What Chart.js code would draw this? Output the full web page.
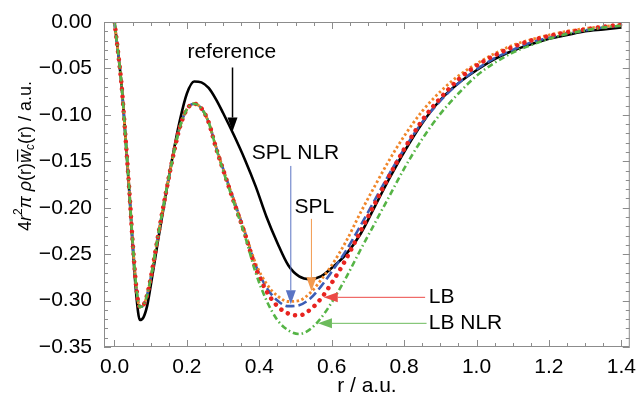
<!doctype html>
<html lang="en">
<head>
<meta charset="utf-8">
<title>Correlation energy density</title>
<style>
  html, body { margin: 0; padding: 0; background: #fff; }
  #wrap { width: 636px; height: 400px; }
</style>
</head>
<body>
<div id="wrap"><canvas id="chart" width="636" height="400"></canvas></div>
<script src="https://cdn.jsdelivr.net/npm/chart.js"></script>
<script>
// r grid (a.u.) shared by all curves
const rGrid = [0, 0.01, 0.02, 0.03, 0.04, 0.05, 0.06, 0.07, 0.08, 0.09, 0.10, 0.12, 0.14, 0.16, 0.18, 0.20,
  0.22, 0.24, 0.26, 0.28, 0.30, 0.33, 0.36, 0.39, 0.42, 0.45, 0.48, 0.51, 0.54, 0.57, 0.60, 0.64,
  0.68, 0.72, 0.76, 0.80, 0.85, 0.90, 0.95, 1.00, 1.05, 1.10, 1.15, 1.20, 1.25, 1.30, 1.35, 1.40];

const reference = [0, -0.033, -0.070, -0.122, -0.178, -0.240, -0.293, -0.321, -0.318, -0.306, -0.284, -0.236, -0.190, -0.146, -0.107, -0.077,
  -0.064, -0.065, -0.071, -0.083, -0.098, -0.122, -0.148, -0.177, -0.210, -0.238, -0.262, -0.274, -0.277, -0.274, -0.265, -0.250,
  -0.228, -0.198, -0.168, -0.140, -0.109, -0.084, -0.066, -0.052, -0.040, -0.031, -0.024, -0.018, -0.014, -0.010, -0.008, -0.006];

const splNlr = [0, -0.033, -0.070, -0.122, -0.176, -0.236, -0.285, -0.307, -0.305, -0.294, -0.276, -0.231, -0.188, -0.148, -0.114, -0.094,
  -0.088, -0.093, -0.108, -0.134, -0.158, -0.192, -0.226, -0.262, -0.286, -0.300, -0.306, -0.305, -0.298, -0.285, -0.269, -0.246,
  -0.219, -0.191, -0.163, -0.137, -0.108, -0.085, -0.066, -0.051, -0.039, -0.030, -0.022, -0.017, -0.012, -0.009, -0.006, -0.004];

const spl = [0, -0.033, -0.070, -0.122, -0.176, -0.236, -0.285, -0.307, -0.305, -0.294, -0.276, -0.231, -0.188, -0.148, -0.114, -0.094,
  -0.088, -0.093, -0.108, -0.134, -0.158, -0.192, -0.226, -0.260, -0.282, -0.295, -0.301, -0.300, -0.292, -0.278, -0.262, -0.236,
  -0.205, -0.176, -0.148, -0.123, -0.096, -0.075, -0.058, -0.045, -0.034, -0.025, -0.019, -0.014, -0.010, -0.007, -0.005, -0.003];

const lb = [0, -0.033, -0.070, -0.122, -0.176, -0.236, -0.285, -0.307, -0.305, -0.294, -0.276, -0.231, -0.188, -0.148, -0.114, -0.094,
  -0.088, -0.093, -0.108, -0.135, -0.159, -0.194, -0.228, -0.265, -0.290, -0.306, -0.314, -0.316, -0.310, -0.298, -0.281, -0.255,
  -0.225, -0.195, -0.165, -0.137, -0.106, -0.082, -0.062, -0.047, -0.036, -0.027, -0.020, -0.015, -0.011, -0.008, -0.005, -0.003];

const lbNlr = [0, -0.033, -0.070, -0.122, -0.176, -0.236, -0.285, -0.307, -0.305, -0.294, -0.276, -0.231, -0.188, -0.148, -0.114, -0.094,
  -0.088, -0.093, -0.108, -0.135, -0.160, -0.195, -0.230, -0.270, -0.300, -0.321, -0.332, -0.336, -0.331, -0.319, -0.302, -0.275,
  -0.245, -0.216, -0.187, -0.158, -0.126, -0.099, -0.077, -0.058, -0.044, -0.033, -0.025, -0.018, -0.013, -0.009, -0.006, -0.004];

const xTicks = [0, 0.2, 0.4, 0.6, 0.8, 1.0, 1.2, 1.4];
const yTicks = [0, -0.05, -0.10, -0.15, -0.20, -0.25, -0.30, -0.35];
const xMinor = [0.05, 0.1, 0.15, 0.25, 0.3, 0.35, 0.45, 0.5, 0.55, 0.65, 0.7, 0.75, 0.85, 0.9, 0.95, 1.05, 1.1, 1.15, 1.25, 1.3, 1.35];

const FONT = '"Liberation Sans", Arial, sans-serif';

// labels with arrows, in data coordinates
const notes = [
  { text: 'reference', at: [0.324, -0.033], align: 'center', from: [0.326, -0.049], to: [0.326, -0.118], color: '#000000', lw: 1.5 },
  { text: 'SPL NLR', at: [0.500, -0.141], align: 'center', from: [0.487, -0.155], to: [0.487, -0.304], color: '#5a74c4', lw: 1 },
  { text: 'SPL', at: [0.552, -0.199], align: 'center', from: [0.544, -0.212], to: [0.544, -0.290], color: '#f39a4e', lw: 1 },
  { text: 'LB', at: [0.868, -0.2965], align: 'left', from: [0.858, -0.2965], to: [0.578, -0.2965], color: '#ec4a46', lw: 1 },
  { text: 'LB NLR', at: [0.868, -0.3245], align: 'left', from: [0.862, -0.3245], to: [0.562, -0.3245], color: '#6cbb5c', lw: 1 }
];

function pts(ys) {
  return rGrid.map((r, i) => ({ x: r, y: ys[i] }));
}

const framePlugin = {
  id: 'frame',
  afterDraw(chart) {
    const ctx = chart.ctx;
    const a = chart.chartArea;
    const xs = chart.scales.x, ys = chart.scales.y;
    ctx.save();
    ctx.strokeStyle = '#8c8c8c';
    ctx.lineWidth = 1;
    ctx.strokeRect(a.left + 0.5, a.top + 0.5, a.right - a.left - 1, a.bottom - a.top - 1);
    ctx.beginPath();
    xTicks.forEach(v => {
      const p = Math.round(xs.getPixelForValue(v)) + 0.5;
      ctx.moveTo(p, a.bottom); ctx.lineTo(p, a.bottom - 7);
      ctx.moveTo(p, a.top); ctx.lineTo(p, a.top + 7);
    });
    xMinor.forEach(v => {
      const p = Math.round(xs.getPixelForValue(v)) + 0.5;
      ctx.moveTo(p, a.bottom); ctx.lineTo(p, a.bottom - 4);
      ctx.moveTo(p, a.top); ctx.lineTo(p, a.top + 4);
    });
    for (let k = 0; k <= 35; k++) {
      const v = -k / 100;
      const len = k % 5 === 0 ? 7 : 4;
      const p = Math.round(ys.getPixelForValue(v)) + 0.5;
      ctx.moveTo(a.left, p); ctx.lineTo(a.left + len, p);
      ctx.moveTo(a.right, p); ctx.lineTo(a.right - len, p);
    }
    ctx.stroke();

    // annotations
    notes.forEach(n => {
      const x0 = xs.getPixelForValue(n.from[0]), y0 = ys.getPixelForValue(n.from[1]);
      const x1 = xs.getPixelForValue(n.to[0]), y1 = ys.getPixelForValue(n.to[1]);
      const ang = Math.atan2(y1 - y0, x1 - x0);
      const head = 14, half = 5;
      ctx.strokeStyle = n.color;
      ctx.fillStyle = n.color;
      ctx.lineWidth = n.lw;
      ctx.beginPath();
      ctx.moveTo(x0, y0);
      ctx.lineTo(x1 - Math.cos(ang) * head, y1 - Math.sin(ang) * head);
      ctx.stroke();
      ctx.beginPath();
      ctx.moveTo(x1, y1);
      ctx.lineTo(x1 - Math.cos(ang) * head - Math.sin(ang) * half, y1 - Math.sin(ang) * head + Math.cos(ang) * half);
      ctx.lineTo(x1 - Math.cos(ang) * head + Math.sin(ang) * half, y1 - Math.sin(ang) * head - Math.cos(ang) * half);
      ctx.closePath();
      ctx.fill();

      ctx.fillStyle = '#000';
      ctx.font = '21px ' + FONT;
      ctx.textAlign = n.align;
      ctx.textBaseline = 'middle';
      ctx.fillText(n.text, xs.getPixelForValue(n.at[0]), ys.getPixelForValue(n.at[1]));
    });

    // x axis title
    ctx.fillStyle = '#000';
    ctx.font = '21px ' + FONT;
    ctx.textAlign = 'center';
    ctx.textBaseline = 'middle';
    ctx.fillText('r / a.u.', (a.left + a.right) / 2, 386);

    // y axis title: 4r²π ρ(r) w̄c(r) / a.u.
    const parts = [
      { t: '4', f: '18px ' }, { t: 'r', f: 'italic 18px ' }, { t: '2', f: '12px ', dy: -7 },
      { t: 'π ', f: 'italic 18px ' }, { t: 'ρ', f: 'italic 18px ' }, { t: '(r)', f: '18px ' },
      { t: 'w', f: 'italic 18px ', bar: true }, { t: 'c', f: 'italic 12px ', dy: 5 }, { t: '(r) / a.u.', f: '18px ' }
    ];
    ctx.translate(26, 156);
    ctx.rotate(-Math.PI / 2);
    let total = 0;
    parts.forEach(p => { ctx.font = p.f + FONT; total += ctx.measureText(p.t).width; });
    let cx = -total / 2;
    ctx.textAlign = 'left';
    ctx.textBaseline = 'middle';
    parts.forEach(p => {
      ctx.font = p.f + FONT;
      const w = ctx.measureText(p.t).width;
      ctx.fillText(p.t, cx, p.dy || 0);
      if (p.bar) {
        ctx.fillRect(cx + 1.5, -9, w - 1, 1.2);
      }
      cx += w;
    });
    ctx.restore();
  }
};

function yLabel(v) {
  const s = Math.abs(v).toFixed(2);
  return v < -1e-9 ? '\u2212' + s : s;
}

new Chart(document.getElementById('chart'), {
  type: 'line',
  data: {
    datasets: [
      { label: 'reference', data: pts(reference), borderColor: '#000000', borderWidth: 2.6, order: 5 },
      { label: 'SPL NLR', data: pts(splNlr), borderColor: '#3b5db5', borderWidth: 2.6, borderDash: [9, 4], order: 4 },
      { label: 'SPL', data: pts(spl), borderColor: '#f0862a', borderWidth: 2.8, borderDash: [2.5, 2.5], order: 3 },
      { label: 'LB', data: pts(lb), borderColor: '#e8231f', borderWidth: 4.5, borderDash: [0.01, 7.5], borderCapStyle: 'round', order: 2 },
      { label: 'LB NLR', data: pts(lbNlr), borderColor: '#55b445', borderWidth: 2.6, borderDash: [6, 3, 1.5, 3], order: 1 }
    ]
  },
  options: {
    responsive: false,
    animation: false,
    devicePixelRatio: 1,
    parsing: false,
    elements: {
      point: { radius: 0 },
      line: { cubicInterpolationMode: 'monotone', fill: false }
    },
    layout: { padding: { left: 0, right: 5, top: 22, bottom: 0 } },
    plugins: { legend: { display: false }, tooltip: { enabled: false } },
    scales: {
      x: {
        type: 'linear',
        min: -0.029,
        max: 1.4234,
        grid: { display: false },
        border: { display: false },
        afterBuildTicks: s => { s.ticks = xTicks.map(v => ({ value: v })); },
        afterFit: s => { s.height = 53; },
        ticks: {
          color: '#000',
          padding: 0,
          maxRotation: 0,
          autoSkip: false,
          font: { family: FONT, size: 21 },
          callback: v => v.toFixed(1)
        }
      },
      y: {
        type: 'linear',
        min: -0.35,
        max: 0,
        grid: { display: false },
        border: { display: false },
        afterBuildTicks: s => { s.ticks = yTicks.map(v => ({ value: v })); },
        afterFit: s => { s.width = 104; },
        ticks: {
          color: '#000',
          padding: 4,
          autoSkip: false,
          font: { family: FONT, size: 21 },
          callback: v => yLabel(v)
        }
      }
    }
  },
  plugins: [framePlugin]
});
</script>
</body>
</html>
